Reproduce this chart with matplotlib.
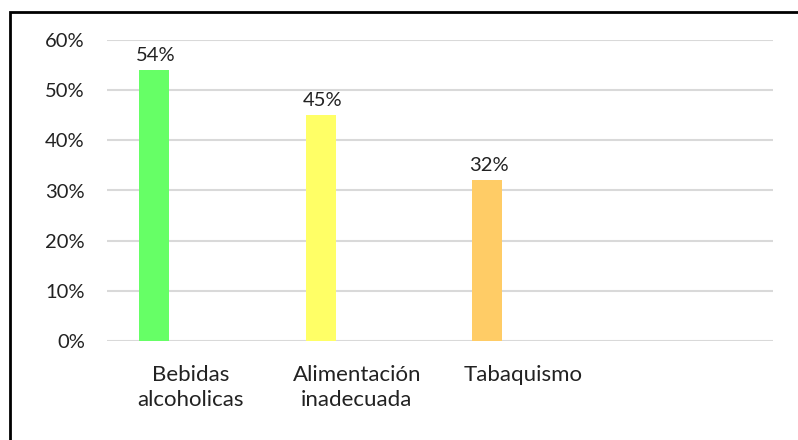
import matplotlib
matplotlib.use("Agg")
import matplotlib.pyplot as plt
from matplotlib.patches import Rectangle
import numpy as np

categories = ["Bebidas\nalcoholicas", "Alimentación\ninadecuada", "Tabaquismo", ""]
values = [0.54, 0.45, 0.32, None]
colors = ["#66FF66", "#FFFF66", "#FFCC66", "#FFFFFF"]
yticks = [0, 0.1, 0.2, 0.3, 0.4, 0.5, 0.6]
ytick_labels = ["0%", "10%", "20%", "30%", "40%", "50%", "60%"]

plt.rcParams['font.family'] = ['Lato', 'DejaVu Sans']

W, H = 798, 440
fig = plt.figure(figsize=(W/100, H/100), dpi=100)
ax = fig.add_axes([107/W, (H-341)/H, (773-107)/W, (341-40)/H])

x = np.arange(len(categories))
offset = -0.216
bw = 0.18
for xi, v, c in zip(x, values, colors):
    if v is None:
        continue
    ax.bar(xi + offset, v, width=bw, color=c, zorder=3)
    ax.text(xi + offset + 0.01, v + 0.012, f"{round(v*100)}%", ha="center", va="bottom",
            fontsize=14.5, color="#222222", zorder=4)

ax.set_xlim(-0.5, 3.5)
ax.set_ylim(0, 0.6)
ax.set_yticks(yticks)
ax.set_yticklabels(ytick_labels, fontsize=14.5, color="#222222")
ax.set_xticks(x)
ax.set_xticklabels(categories, fontsize=16, color="#222222", linespacing=1.35)
ax.tick_params(axis='both', length=0)
ax.tick_params(axis='y', pad=16)
ax.tick_params(axis='x', pad=17)
for s in ax.spines.values():
    s.set_visible(False)
ax.yaxis.grid(True, color="#D9D9D9", linewidth=1.5, zorder=0)
ax.set_axisbelow(True)

fig.patches.append(Rectangle((9.5/W, -0.1), 1.2, (H-12)/H + 0.1, transform=fig.transFigure,
                             fill=False, edgecolor="black", linewidth=2, zorder=10))

fig.savefig("out.png", dpi=100)
